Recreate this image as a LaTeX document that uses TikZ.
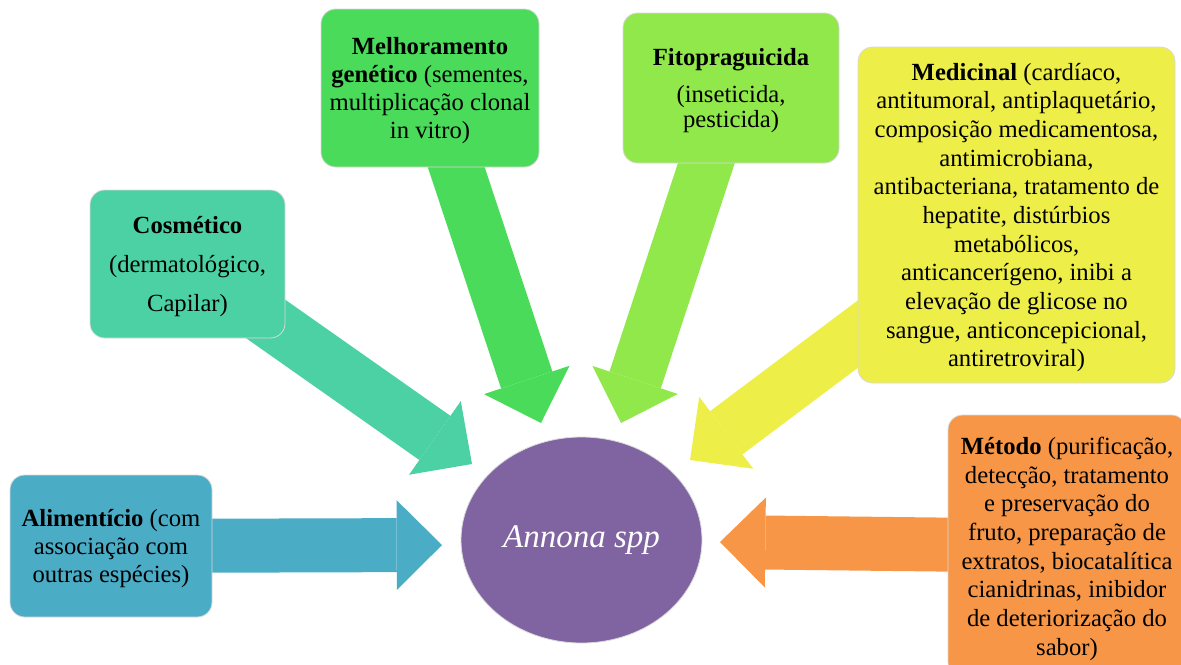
\documentclass[tikz,border=0pt]{standalone}
\usepackage{fontspec}
\setmainfont{Liberation Serif}
\usetikzlibrary{arrows.meta}
\usetikzlibrary{shapes.geometric}
\usetikzlibrary{backgrounds}

\definecolor{alimcol}{HTML}{4BACC6}
\definecolor{cosmcol}{HTML}{4BD1A4}
\definecolor{melhcol}{HTML}{4ADB5A}
\definecolor{fitocol}{HTML}{91E84A}
\definecolor{medicol}{HTML}{EEEE48}
\definecolor{metocol}{HTML}{F79646}
\definecolor{annocol}{HTML}{8064A2}

\newcommand{\txtsize}[1]{\fontsize{18.5}{#1}\selectfont}

\begin{document}
\begin{tikzpicture}[x=0.75pt, y=-0.75pt,
    box/.style={draw=black!15, line width=0.6pt, rounded corners=11pt, align=center, inner sep=0pt, text depth=-2pt},
    bigarrow/.style={line width=40.5pt, -{Triangle[length=34pt 0 0, width=67.5pt 0 0, line width=0pt 0 0]}}]
		\useasboundingbox (0,0) rectangle (1181,664);
		\node (anno) [ellipse, fill=annocol, draw=black!15, line width=0.6pt, minimum width=180.75pt, minimum height=154.5pt, inner sep=0pt, text=white, font=\fontsize{24.75}{28}\selectfont\itshape] at (581.5,540) {Annona spp};
		\node (alim) [box, fill=alimcol, minimum width=151.5pt, minimum height=106.5pt, font=\txtsize{21pt}] at (111,546) {\textbf{Alimentício} (com\\associação com\\outras espécies)};
		\node (cosm) [box, fill=cosmcol, minimum width=146.25pt, minimum height=111pt, font=\txtsize{29pt}] at (187.5,264) {\textbf{Cosmético}\\(dermatológico,\\Capilar)};
		\node (melh) [box, fill=melhcol, minimum width=163.5pt, minimum height=118.5pt, font=\txtsize{21pt}] at (430,88) {\textbf{Melhoramento}\\\textbf{genético} (sementes,\\multiplicação clonal\\in vitro)};
		\node (fito) [box, fill=fitocol, minimum width=162pt, minimum height=112.5pt, font=\txtsize{19pt}] at (731,88) {\textbf{Fitopraguicida}\\[9pt](inseticida,\\pesticida)};
		\node (medi) [box, fill=medicol, minimum width=237.75pt, minimum height=252pt, font=\txtsize{21.5pt}] at (1016.5,215) {\textbf{Medicinal} (cardíaco,\\antitumoral, antiplaquetário,\\composição medicamentosa,\\antimicrobiana,\\antibacteriana, tratamento de\\hepatite, distúrbios\\metabólicos,\\anticancerígeno, inibi a\\elevação de glicose no\\sangue, anticoncepicional,\\antiretroviral)};
		\node (meto) [box, fill=metocol, minimum width=178.5pt, minimum height=196.5pt, font=\txtsize{21.5pt}] at (1067,546) {\textbf{Método} (purificação,\\detecção, tratamento\\e preservação do\\fruto, preparação de\\extratos, biocatalítica\\cianidrinas, inibidor\\de deteriorização do\\sabor)};
		\coordinate (alimtip) at (442,545);
		\coordinate (cosmtip) at (472,464);
		\coordinate (melhtip) at (541,423);
		\coordinate (fitotip) at (621,423);
		\coordinate (meditip) at (690,460);
		\coordinate (metotip) at (720,542);
		\begin{scope}[on background layer]
		\draw [bigarrow, alimcol] (alim.center) -- (alimtip);
		\draw [bigarrow, cosmcol] (cosm.center) -- (cosmtip);
		\draw [bigarrow, melhcol] (melh.center) -- (melhtip);
		\draw [bigarrow, fitocol] (fito.center) -- (fitotip);
		\draw [bigarrow, medicol] (medi.center) -- (meditip);
		\draw [bigarrow, metocol] (meto.center) -- (metotip);
		\end{scope}
\end{tikzpicture}
\end{document}
